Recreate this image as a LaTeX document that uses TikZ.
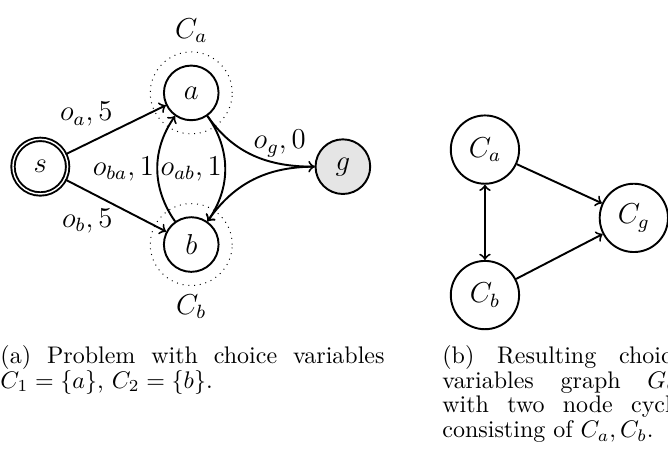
\documentclass[tikz,border=0pt]{standalone}
\usepackage{amsmath,amssymb}
\usepackage{tikz}
\newcommand{\captsize}{\fontsize{10}{10.3}\selectfont\lineskiplimit=-100pt\relax}
\tikzset{main/.style={draw, circle, thick, minimum size=8mm}}
\tikzset{group/.style={draw, circle, dotted, minimum size=12mm}}
\tikzset{var/.style={draw, circle, thick, minimum size=1cm}}
\tikzset{capt/.style={anchor=north west, inner sep=0pt, align=justify, font=\captsize}}

\begin{document}
\begin{tikzpicture}[font=\large]
                    \useasboundingbox (0,0) rectangle (9.78,6.60);
                    \clip (0,0) rectangle (9.78,6.60);

                    % (a) problem
                    \node[group, label=above:$C_a$] (ga) at (2.80,5.24) {};
                    \node[group, label=below:$C_b$] (gb) at (2.80,3.02) {};

                    \node[main, double] (s) at (0.59,4.16) {$s$};
                    \node[main] (a) at (2.80,5.24) {$a$};
                    \node[main] (b) at (2.80,3.02) {$b$};
                    \node[main, fill=gray!20] (g) at (5.02,4.16) {$g$};

                    \draw[thick, ->] (s) -- node[above left, inner sep=1pt] {$o_a,5$} (a);
                    \draw[thick, ->] (s) -- node[below left, inner sep=1pt] {$o_b,5$} (b);

                    \draw[thick, ->] (b) to[bend left=35] node[left, inner sep=1pt] {$o_{ba},1$} (a);
                    \draw[thick, ->] (a) to[bend left=35] node[left, inner sep=1pt] {$o_{ab},1$} (b);

                    \draw[thick, ->] (a) to[out=-55, in=180] node[above right, xshift=-1.3mm, yshift=-1.5mm] {$o_g,0$} (g);
                    \draw[thick, ->] (g) to[out=180, in=55] (b);

                    % (b) choice variables graph
                    \node[var] (ca) at (7.10,4.41) {$C_a$};
                    \node[var] (cb) at (7.10,2.28) {$C_b$};
                    \node[var] (cg) at (9.28,3.41) {$C_g$};

                    \draw[thick, <->] (ca) -- (cb);
                    \draw[thick, ->] (ca) -- (cg);
                    \draw[thick, ->] (cb) -- (cg);

                    % captions
                    \node[capt, text width=160pt] (capa) at (0,1.55)
                        {(a) Problem with choice variables $C_1=\{a\}$, $C_2=\{b\}$.};
                    \node[capt, text width=100pt] (capb) at (6.47,1.55)
                        {(b) Resulting choice variables graph $G_C$ with two node cycle consisting of $C_a,C_b$.};

                 \end{tikzpicture}
\end{document}
